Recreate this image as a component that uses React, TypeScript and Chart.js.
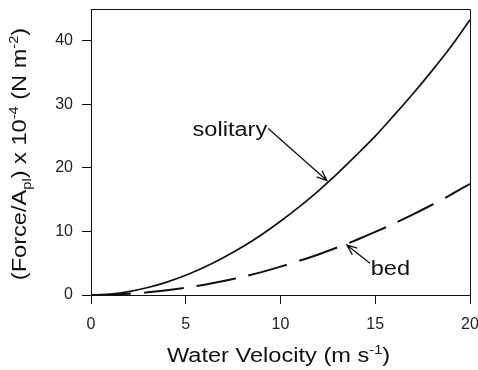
import { useEffect, useRef } from "react";
import { Chart, registerables } from "chart.js";

Chart.register(...registerables);

// ---- data ----
const velocity = [0, 1, 2, 3, 4, 5, 6, 7, 8, 9, 10, 11, 12, 13, 14, 15, 16, 17, 18, 19, 20];
const solitary = [0, 0.15, 0.54, 1.18, 2.03, 3.1, 4.39, 5.9, 7.59, 9.49, 11.6, 13.9, 16.4, 19.1, 22.0, 25.0, 28.3, 31.7, 35.3, 39.1, 43.3];
const bed = [0, 0.05, 0.19, 0.42, 0.73, 1.14, 1.63, 2.2, 2.86, 3.6, 4.46, 5.38, 6.38, 7.48, 8.65, 9.92, 11.26, 12.69, 14.2, 15.8, 17.5];
const xTickValues = [0, 5, 10, 15, 20];
const yTickValues = [0, 10, 20, 30, 40];
const seriesNames = ["solitary", "bed"];

type Seg = { t: string; sup?: boolean; sub?: boolean };
const xTitle: Seg[] = [{ t: "Water Velocity (m s" }, { t: "-1", sup: true }, { t: ")" }];
const yTitle: Seg[] = [
  { t: "(Force/A" },
  { t: "pl", sub: true },
  { t: ") x 10" },
  { t: "-4", sup: true },
  { t: " (N m" },
  { t: "-2", sup: true },
  { t: ")" },
];

const FAMILY = '"Liberation Sans", Arial, Helvetica, sans-serif';
const STRETCH = 1.18;

function drawRich(ctx: CanvasRenderingContext2D, segs: Seg[], size: number) {
  const small = size * 0.62;
  let w = 0;
  for (const s of segs) {
    ctx.font = `${s.sup || s.sub ? small : size}px ${FAMILY}`;
    w += ctx.measureText(s.t).width;
  }
  let x = -w / 2;
  ctx.textAlign = "left";
  ctx.textBaseline = "alphabetic";
  for (const s of segs) {
    ctx.font = `${s.sup || s.sub ? small : size}px ${FAMILY}`;
    const dy = s.sup ? -size * 0.42 : s.sub ? size * 0.25 : 0;
    ctx.fillText(s.t, x, dy);
    x += ctx.measureText(s.t).width;
  }
}

function arrow(ctx: CanvasRenderingContext2D, x1: number, y1: number, x2: number, y2: number) {
  ctx.beginPath();
  ctx.moveTo(x1, y1);
  ctx.lineTo(x2, y2);
  const a = Math.atan2(y2 - y1, x2 - x1);
  const L = 11;
  const s = 0.38;
  ctx.moveTo(x2 - L * Math.cos(a - s), y2 - L * Math.sin(a - s));
  ctx.lineTo(x2, y2);
  ctx.lineTo(x2 - L * Math.cos(a + s), y2 - L * Math.sin(a + s));
  ctx.stroke();
}

const decorPlugin = {
  id: "decor",
  afterDraw(chart: any) {
    const ctx: CanvasRenderingContext2D = chart.ctx;
    const { left, right, top, bottom } = chart.chartArea;
    const xs = chart.scales.x;
    const ys = chart.scales.y;
    const px = (v: number) => xs.getPixelForValue(v);
    const py = (v: number) => ys.getPixelForValue(v);
    ctx.save();
    // box top and right
    ctx.strokeStyle = "#111";
    ctx.lineWidth = 1;
    ctx.beginPath();
    ctx.moveTo(left, top + 0.5);
    ctx.lineTo(right + 0.5, top + 0.5);
    ctx.lineTo(right + 0.5, bottom);
    ctx.stroke();

    ctx.fillStyle = "#111";
    // x title
    ctx.save();
    ctx.translate((left + right) / 2 - 2, 362);
    ctx.scale(STRETCH, 1);
    drawRich(ctx, xTitle, 20);
    ctx.restore();
    // y title
    ctx.save();
    ctx.translate(26, (top + bottom) / 2 + 2);
    ctx.rotate(-Math.PI / 2);
    ctx.scale(STRETCH, 1);
    drawRich(ctx, yTitle, 20);
    ctx.restore();

    // annotations
    ctx.lineWidth = 1.3;
    ctx.strokeStyle = "#111";
    arrow(ctx, px(9.35), py(26.2), px(12.45), py(18.0));
    arrow(ctx, px(14.72), py(5.0), px(13.5), py(7.85));

    ctx.save();
    ctx.translate(px(9.3), py(25.0));
    ctx.scale(STRETCH, 1);
    ctx.font = `20px ${FAMILY}`;
    ctx.textAlign = "right";
    ctx.textBaseline = "alphabetic";
    ctx.fillText(seriesNames[0], 0, 0);
    ctx.restore();

    ctx.save();
    ctx.translate(px(14.76), py(3.15));
    ctx.scale(STRETCH, 1);
    ctx.font = `20px ${FAMILY}`;
    ctx.textAlign = "left";
    ctx.textBaseline = "alphabetic";
    ctx.fillText(seriesNames[1], 0, 0);
    ctx.restore();

    ctx.restore();
  },
};

export default function App() {
  const ref = useRef<HTMLCanvasElement | null>(null);
  useEffect(() => {
    document.body.style.margin = "0";
    document.body.style.overflow = "hidden";
    const canvas = ref.current!;
    const chart = new Chart(canvas, {
      type: "line",
      data: {
        datasets: [
          {
            label: seriesNames[0],
            data: velocity.map((v, i) => ({ x: v, y: solitary[i] })),
            borderColor: "#111",
            borderWidth: 1.7,
            pointRadius: 0,
            tension: 0.3,
            fill: false,
          },
          {
            label: seriesNames[1],
            data: velocity.map((v, i) => ({ x: v, y: bed[i] })),
            borderColor: "#111",
            borderWidth: 2,
            borderDash: [40, 13],
            borderCapStyle: "butt",
            pointRadius: 0,
            tension: 0.3,
            fill: false,
          },
        ],
      },
      options: {
        animation: false,
        responsive: false,
        devicePixelRatio: 1,
        layout: { padding: { top: 9, right: 8, left: 0, bottom: 0 } },
        plugins: { legend: { display: false }, tooltip: { enabled: false } },
        scales: {
          x: {
            type: "linear",
            min: 0,
            max: 20,
            afterFit: (s: any) => {
              s.height = 75;
              s.paddingLeft = 0;
              s.paddingRight = 0;
            },
            afterBuildTicks: (s: any) => {
              s.ticks = xTickValues.map((v) => ({ value: v }));
            },
            ticks: {
              includeBounds: false,
              font: { family: FAMILY, size: 16 },
              color: "#222",
              padding: 11,
              maxRotation: 0,
              autoSkip: false,
            },
            grid: {
              drawOnChartArea: false,
              drawTicks: true,
              tickLength: 9,
              color: "#111",
            },
            border: { display: true, color: "#111", width: 1 },
          },
          y: {
            type: "linear",
            min: 0,
            max: 45,
            afterFit: (s: any) => {
              s.width = 91;
              s.paddingTop = 0;
              s.paddingBottom = 0;
            },
            afterBuildTicks: (s: any) => {
              s.ticks = yTickValues.map((v) => ({ value: v }));
            },
            ticks: {
              includeBounds: false,
              font: { family: FAMILY, size: 16 },
              color: "#222",
              padding: 9,
              autoSkip: false,
            },
            grid: {
              drawOnChartArea: false,
              drawTicks: true,
              tickLength: 9,
              color: "#111",
            },
            border: { display: true, color: "#111", width: 1 },
          },
        },
      },
      plugins: [decorPlugin],
    } as any);
    return () => chart.destroy();
  }, []);
  return (
    <div style={{ width: 478, height: 370 }}>
      <canvas ref={ref} width={478} height={370} style={{ display: "block", width: 478, height: 370 }} />
    </div>
  );
}
